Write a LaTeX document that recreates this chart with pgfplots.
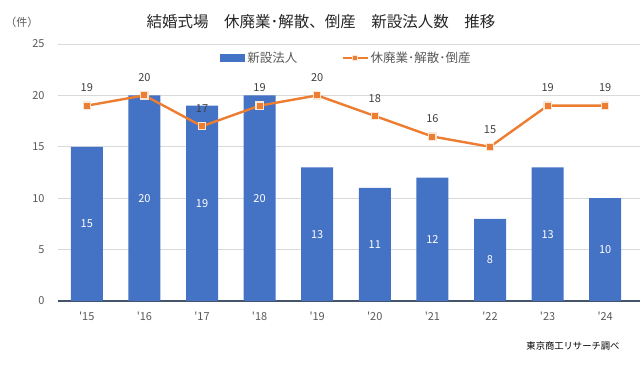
\documentclass[border=0pt]{standalone}
\usepackage{fontspec}
\setmainfont{Noto Sans CJK JP}
\usepackage{pgfplots}
\usepackage{pgfplotstable}
\pgfplotsset{compat=1.18}
\definecolor{barblue}{HTML}{4472C4}
\definecolor{lineor}{HTML}{ED7D31}
\definecolor{markbd}{HTML}{FBE5D6}
\definecolor{tickgray}{HTML}{595959}
\definecolor{gridgray}{HTML}{D9D9D9}
\definecolor{axisnavy}{HTML}{44546A}
\definecolor{lblgray}{HTML}{404040}
\pgfplotstableread{
x y h l
0 15 7.5 19
1 20 10 20
2 19 9.5 17
3 20 10 19
4 13 6.5 20
5 11 5.5 18
6 12 6 16
7 8 4 15
8 13 6.5 19
9 10 5 19
}\data
\begin{document}
\begin{tikzpicture}
\useasboundingbox (-58pt,-65pt) rectangle (584pt,301pt);
\begin{axis}[
  at={(0pt,0pt)}, anchor=south west,
  scale only axis, width=582pt, height=257pt,
  xmin=-0.5, xmax=9.604, ymin=0, ymax=25,
  ytick={0,5,10,15,20,25},
  xtick={0,...,9},
  xticklabels={\textquotesingle15,\textquotesingle16,\textquotesingle17,\textquotesingle18,\textquotesingle19,\textquotesingle20,\textquotesingle21,\textquotesingle22,\textquotesingle23,\textquotesingle24},
  /pgf/number format/assume math mode=true,
  ymajorgrids, grid style={gridgray, line width=0.8pt},
  axis x line*=bottom, axis y line*=left,
  x axis line style={axisnavy, line width=1.6pt, -},
  y axis line style={draw=none},
  major tick length=0pt,
  tick label style={font=\fontsize{11}{13}\selectfont, text=tickgray},
  yticklabel style={xshift=-10pt},
  xticklabel style={yshift=-7pt},
  legend columns=2,
  legend style={at={(288.5pt,243pt)}, anchor=center, draw=none, fill=none,
    font=\fontsize{12.5}{14}\selectfont, text=tickgray,
    /tikz/every even column/.append style={column sep=42pt}},
  clip=false,
]
\addplot[ybar, bar width=32pt, fill=barblue, draw=none,
  legend image code/.code={\fill[barblue] (0pt,-4pt) rectangle (25pt,4pt);}]
  table[x=x,y=y]{\data};
\addlegendentry{新設法人}
\addplot[draw=none, mark=none, forget plot, nodes near coords, point meta=explicit,
  every node near coord/.style={anchor=center, font=\fontsize{11}{13}\selectfont, text=white}]
  table[x=x,y=h,meta=y]{\data};
\addplot[lineor, line width=2.4pt, mark=square*, mark size=3.6pt,
  mark options={fill=lineor, draw=markbd, line width=1.2pt},
  nodes near coords, point meta=explicit,
  every node near coord/.style={anchor=south, inner sep=0pt, yshift=13pt, font=\fontsize{11}{13}\selectfont, text=lblgray},
  legend image code/.code={\draw[lineor, line width=2.4pt] (0pt,0pt) -- (25pt,0pt);
    \fill[lineor, draw=markbd, line width=1pt] (9.7pt,-2.8pt) rectangle (15.3pt,2.8pt);}]
  table[x=x,y=l,meta=l]{\data};
\addlegendentry{休廃業･解散･倒産}
\end{axis}
\node[font=\fontsize{15.5}{17}\selectfont, text=black!85] at (263pt,279pt) {結婚式場　休廃業･解散、倒産　新設法人数　推移};
\node[font=\fontsize{11}{13}\selectfont, text=tickgray] at (-36pt,279pt) {（件）};
\node[font=\fontsize{9.3}{11}\selectfont, text=black, anchor=east] at (565pt,-45pt) {東京商工リサーチ調べ};
\end{tikzpicture}
\end{document}
